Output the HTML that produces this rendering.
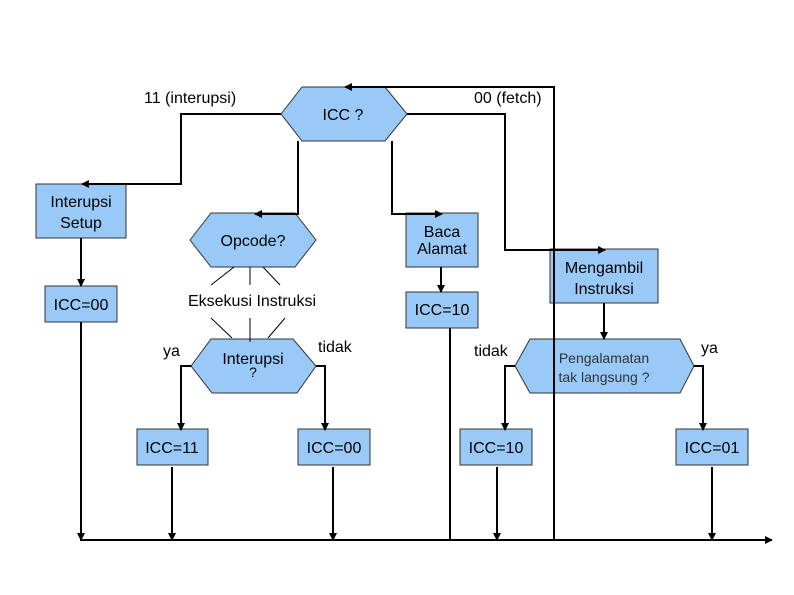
<!DOCTYPE html>
<html><head><meta charset="utf-8"><style>
html,body{margin:0;padding:0;background:#fff;}
svg{display:block;}
text{font-family:"Liberation Sans",Arial,sans-serif;font-size:16px;fill:#000;}
</style></head><body>
<svg width="794" height="595" viewBox="0 0 794 595" xmlns="http://www.w3.org/2000/svg">
<defs>
<marker id="a" markerWidth="8" markerHeight="8" refX="7" refY="4" orient="auto" markerUnits="userSpaceOnUse">
<path d="M0,0 L8,4 L0,8 z" fill="#000"/></marker>
</defs>
<g fill="#99c9f7" stroke="#333" stroke-width="1">
<polygon points="281,114 302,87 385,87 407,114 385,141 302,141"/>
<polygon points="190,240 211,213 295,213 316,240 295,267 211,267"/>
<polygon points="191,366 211,339 293,339 316,366 297,393 212,393"/>
<polygon points="515,366 530,339 680,339 694,366 680,393 530,393"/>
<rect x="36" y="184" width="90" height="54"/>
<rect x="45" y="286" width="72" height="36"/>
<rect x="406" y="213" width="72" height="54"/>
<rect x="406" y="292" width="72" height="36"/>
<rect x="550" y="249" width="108" height="54"/>
<rect x="137" y="429" width="71" height="36"/>
<rect x="298" y="429" width="72" height="36"/>
<rect x="460" y="429" width="72" height="36"/>
<rect x="676" y="429" width="72" height="36"/>
</g>
<g stroke="#000" stroke-width="1">
<line x1="234" y1="267" x2="211" y2="285"/>
<line x1="250" y1="267" x2="250" y2="285"/>
<line x1="263" y1="267" x2="280" y2="285"/>
<line x1="211" y1="318" x2="232" y2="338"/>
<line x1="250" y1="318" x2="250" y2="342"/>
<line x1="285" y1="318" x2="268" y2="338"/>
</g>
<text x="144" y="103">11 (interupsi)</text>
<text x="474" y="103">00 (fetch)</text>
<text x="343" y="120" text-anchor="middle">ICC ?</text>
<text x="81" y="207" text-anchor="middle">Interupsi</text>
<text x="81" y="228" text-anchor="middle">Setup</text>
<text x="81" y="310" text-anchor="middle">ICC=00</text>
<text x="253" y="246" text-anchor="middle">Opcode?</text>
<text x="252" y="306" text-anchor="middle">Eksekusi Instruksi</text>
<text x="442" y="237" text-anchor="middle">Baca</text>
<text x="442" y="254" text-anchor="middle">Alamat</text>
<text x="442" y="315" text-anchor="middle">ICC=10</text>
<text x="604" y="273" text-anchor="middle">Mengambil</text>
<text x="604" y="294" text-anchor="middle">Instruksi</text>
<text x="163" y="356">ya</text>
<text x="318" y="352">tidak</text>
<text x="253" y="364" text-anchor="middle">Interupsi</text>
<text x="253" y="377" text-anchor="middle" style="font-size:14px">?</text>
<text x="474" y="356">tidak</text>
<text x="701" y="353">ya</text>
<text x="604" y="363" text-anchor="middle" style="font-size:14px;fill:#333">Pengalamatan</text>
<text x="604" y="382" text-anchor="middle" style="font-size:14px;fill:#333">tak langsung  ?</text>
<text x="172" y="453" text-anchor="middle">ICC=11</text>
<text x="334" y="453" text-anchor="middle">ICC=00</text>
<text x="496" y="453" text-anchor="middle">ICC=10</text>
<text x="712" y="453" text-anchor="middle">ICC=01</text>
<g fill="none" stroke="#000" stroke-width="2">
<polyline points="281,114 181,114 181,184 82,184" marker-end="url(#a)"/>
<polyline points="81,238 81,286" marker-end="url(#a)"/>
<polyline points="81,322 81,540" marker-end="url(#a)"/>
<polyline points="298,141 298,214 255,214" marker-end="url(#a)"/>
<polyline points="392,141 392,214 442,214" marker-end="url(#a)"/>
<polyline points="441,267 441,292" marker-end="url(#a)"/>
<polyline points="450,328 450,540"/>
<polyline points="407,114 505,114 505,250 605,250" marker-end="url(#a)"/>
<polyline points="604,303 604,339" marker-end="url(#a)"/>
<polyline points="191,366 181,366 181,430" marker-end="url(#a)"/>
<polyline points="316,366 325,366 325,430" marker-end="url(#a)"/>
<polyline points="172,467 172,540" marker-end="url(#a)"/>
<polyline points="333,467 333,540" marker-end="url(#a)"/>
<polyline points="515,366 505,366 505,430" marker-end="url(#a)"/>
<polyline points="694,366 703,366 703,430" marker-end="url(#a)"/>
<polyline points="497,467 497,540" marker-end="url(#a)"/>
<polyline points="712,467 712,540" marker-end="url(#a)"/>
<polyline points="80,540 772,540" marker-end="url(#a)"/>
<polyline points="554,540 554,87 345,87" marker-end="url(#a)"/>
</g>
</svg>
</body></html>
